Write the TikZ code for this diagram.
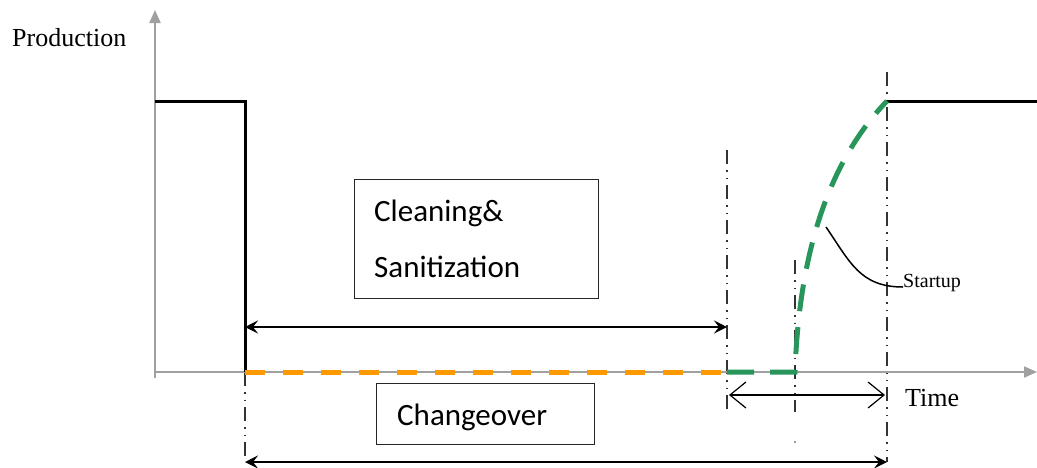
\documentclass[tikz,border=0pt]{standalone}
\usepackage{fontspec}
\setmainfont{Liberation Serif}
\newfontfamily\boxfont{Carlito}
\usetikzlibrary{arrows.meta}
\definecolor{axisgray}{RGB}{160,160,160}
\definecolor{dashorange}{RGB}{255,153,0}
\definecolor{dashgreen}{RGB}{40,150,90}
\tikzset{
  axis/.style={draw=axisgray,line width=2pt,-{Triangle[length=13pt,width=11pt]}},
  prod/.style={draw=black,line width=3pt,line join=miter},
  guide/.style={draw=black!80,line width=1.8pt,dash pattern=on 14pt off 6pt on 1.5pt off 6pt on 1.5pt off 6pt},
  dimarrow/.style={draw=black,line width=1.8pt,{Stealth[length=13pt,width=13pt,inset=5pt]}-{Stealth[length=13pt,width=13pt,inset=5pt]}},
  openarrow/.style={draw=black,line width=1.2pt,{Straight Barb[length=16pt,width=26pt]}-{Straight Barb[length=16pt,width=26pt]}},
  labelbox/.style={draw=black!85,line width=1.3pt,inner sep=0pt},
  boxtext/.style={font=\boxfont\fontsize{31pt}{35pt}\selectfont,anchor=base west,inner sep=0pt},
  serif/.style={inner sep=0pt,anchor=base west},
}
\begin{document}
\begin{tikzpicture}[x=1pt,y=-1pt]
\useasboundingbox (0,0) rectangle (1037,467);
% coordinates
\coordinate (O) at (155,372);
\coordinate (Ytop) at (155,10);
\coordinate (Xend) at (1037,372);
\coordinate (P0) at (155,101);
\coordinate (P1) at (245,101);
\coordinate (P2) at (245,372);
\coordinate (R0) at (887,101);
\coordinate (R1) at (1037,101);
\coordinate (G0) at (727,372);
\coordinate (G1) at (795,372);
% guides
\draw[guide] (727,150) coordinate (A1) -- (727,415) coordinate (A2);
\draw[guide] (795,260) coordinate (B1) -- (795,412) coordinate (B2);
\fill[black!80] (795,442) coordinate (B3) circle (0.8pt);
\draw[guide] (887,72) coordinate (C1) -- (887,462) coordinate (C2);
\draw[guide] (P2) -- (245,462) coordinate (D2);
% axes
\draw[axis] (155,378) -- (Ytop);
\draw[axis] (O) -- (Xend);
% production lines
\draw[prod] (P0) -- (P1) -- (P2);
\draw[prod] (R0) -- (R1);
% orange dashed
\draw[draw=dashorange,line width=5pt,dash pattern=on 20pt off 18pt] (P2) -- (G0);
% green dashed
\draw[draw=dashgreen,line width=5pt,dash pattern=on 27pt off 16pt] (G0) -- (G1) .. controls (800,230) and (840,150) .. (R0);
% dimension arrows
\coordinate (CL1) at (245,327); \coordinate (CL2) at (727,327);
\draw[dimarrow] (CL1) -- (CL2);
\coordinate (CH1) at (245,462); \coordinate (CH2) at (887,462);
\draw[dimarrow] (CH1) -- (CH2);
\coordinate (S1) at (729,395); \coordinate (S2) at (885,395);
\draw[openarrow] (S1) -- (S2);
% boxes
\node[labelbox,minimum width=244pt,minimum height=119pt,anchor=north west] (cbox) at (354,179) {};
\node[boxtext] (ct1) at (374,221) {Cleaning\&};
\node[boxtext] (ct2) at (374,277) {Sanitization};
\node[labelbox,minimum width=218pt,minimum height=61pt,anchor=north west] (chbox) at (376,383) {};
\node[boxtext] (cht) at (397,425) {Changeover};
% labels
\node[serif,font=\fontsize{26pt}{30pt}\selectfont] (prodlab) at (12,46) {Production};
\node[serif,font=\fontsize{26pt}{30pt}\selectfont] (timelab) at (905,406) {Time};
\node[serif,font=\fontsize{20pt}{24pt}\selectfont] (startlab) at (903,287) {Startup};
\coordinate (L0) at (826,227);
\draw[black,line width=1.5pt] (L0) .. controls (850,262) and (860,287) .. (startlab.base west);
\end{tikzpicture}
\end{document}
